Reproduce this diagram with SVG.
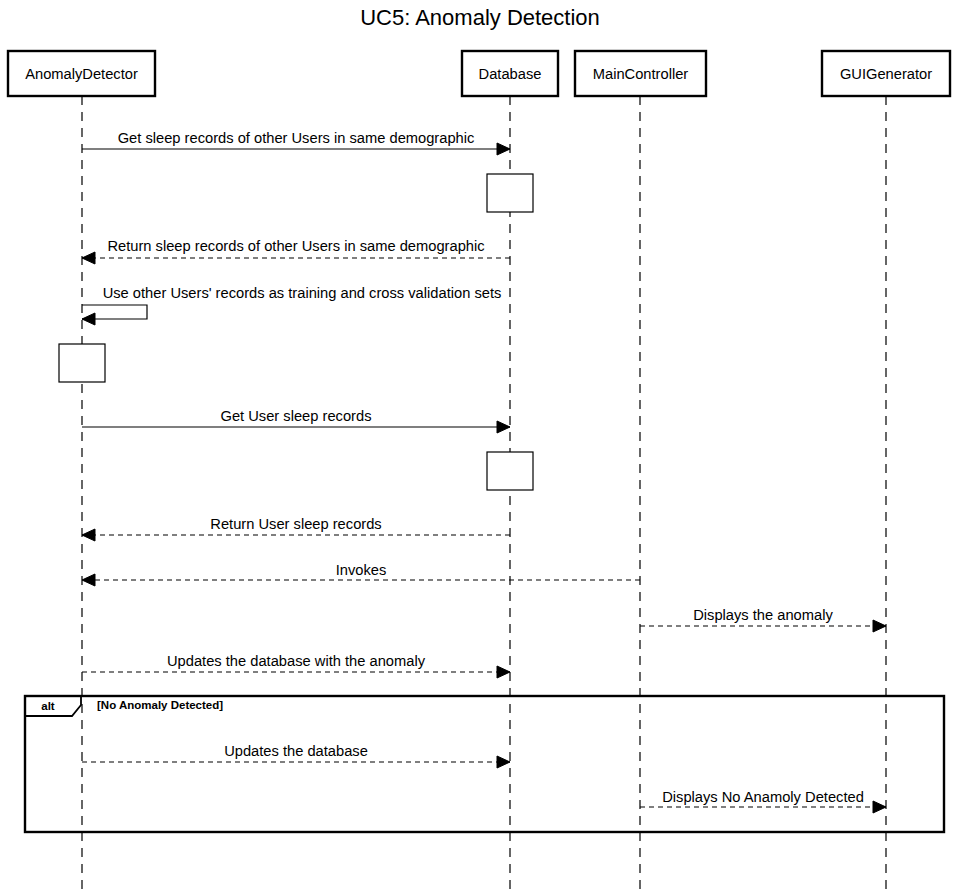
<svg xmlns="http://www.w3.org/2000/svg" width="960" height="889" viewBox="0 0 960 889">
  <style>
    text { font-family: "Liberation Sans", Arial, sans-serif; fill: #000; }
    .title { font-size: 22px; text-anchor: middle; }
    .lbl { font-size: 14.7px; text-anchor: middle; }
    .box { fill: #fff; stroke: #000; stroke-width: 2.4; }
    .act { fill: #fff; stroke: #000; stroke-width: 1.2; }
    .life { stroke: #000; stroke-width: 1.2; stroke-dasharray: 9 7; fill: none; }
    .msg { stroke: #000; stroke-width: 1.2; fill: none; marker-end: url(#arrow); }
    .ret { stroke-dasharray: 5 4; }
    .frame { fill: none; stroke: #000; stroke-width: 2.4; }
    .tag { font-size: 11.5px; font-weight: bold; }
  </style>
  <defs>
    <marker id="arrow" markerUnits="userSpaceOnUse" markerWidth="16" markerHeight="14" refX="14" refY="7" orient="auto">
      <path d="M1,1 L14,7 L1,13 Z" fill="#000" stroke="#000" stroke-width="1"/>
    </marker>
  </defs>

  <rect width="960" height="889" fill="#fff"/>

  <text class="title" x="480" y="25">UC5: Anomaly Detection</text>

  <!-- lifelines -->
  <g id="lifelines">
    <line class="life" x1="82" y1="96" x2="82" y2="889"/>
    <line class="life" x1="510" y1="96" x2="510" y2="889"/>
    <line class="life" x1="640" y1="96" x2="640" y2="889"/>
    <line class="life" x1="886" y1="96" x2="886" y2="889"/>
  </g>

  <!-- participants -->
  <g id="anomalyDetector">
    <rect class="box" x="8" y="51" width="147" height="45"/>
    <text class="lbl" x="81.5" y="79">AnomalyDetector</text>
  </g>
  <g id="database">
    <rect class="box" x="462" y="51" width="96" height="45"/>
    <text class="lbl" x="510" y="79">Database</text>
  </g>
  <g id="mainController">
    <rect class="box" x="575" y="51" width="131" height="45"/>
    <text class="lbl" x="640.5" y="79">MainController</text>
  </g>
  <g id="guiGenerator">
    <rect class="box" x="822" y="51" width="128" height="45"/>
    <text class="lbl" x="886" y="79">GUIGenerator</text>
  </g>

  <!-- activation boxes -->
  <g id="activations">
    <rect class="act" x="487" y="174" width="46" height="38"/>
    <rect class="act" x="59" y="344" width="46" height="38"/>
    <rect class="act" x="487" y="452" width="46" height="38"/>
  </g>

  <!-- alt fragment -->
  <g id="altFrame">
    <rect class="frame" x="25" y="696" width="919" height="136"/>
    <path d="M25,716 H72 L81,705 V696" fill="none" stroke="#000" stroke-width="1.8"/>
    <text class="tag" x="48" y="710" text-anchor="middle">alt</text>
    <text class="tag" x="97" y="709">[No Anomaly Detected]</text>
  </g>

  <!-- messages -->
  <g id="connectors">
    <line class="msg" x1="82" y1="149" x2="510" y2="149"/>
    <text class="lbl" x="296" y="143">Get sleep records of other Users in same demographic</text>

    <line class="msg ret" x1="510" y1="258" x2="82" y2="258"/>
    <text class="lbl" x="296" y="251">Return sleep records of other Users in same demographic</text>

    <path class="msg" d="M82,305 H147 V319 H82"/>
    <text class="lbl" x="302" y="298">Use other Users' records as training and cross validation sets</text>

    <line class="msg" x1="82" y1="427" x2="510" y2="427"/>
    <text class="lbl" x="296" y="421">Get User sleep records</text>

    <line class="msg ret" x1="510" y1="535" x2="82" y2="535"/>
    <text class="lbl" x="296" y="529">Return User sleep records</text>

    <line class="msg ret" x1="640" y1="580" x2="82" y2="580"/>
    <text class="lbl" x="361" y="575">Invokes</text>

    <line class="msg ret" x1="640" y1="626" x2="886" y2="626"/>
    <text class="lbl" x="763" y="620">Displays the anomaly</text>

    <line class="msg ret" x1="82" y1="672" x2="510" y2="672"/>
    <text class="lbl" x="296" y="666">Updates the database with the anomaly</text>

    <line class="msg ret" x1="82" y1="762" x2="510" y2="762"/>
    <text class="lbl" x="296" y="756">Updates the database</text>

    <line class="msg ret" x1="640" y1="807" x2="886" y2="807"/>
    <text class="lbl" x="763" y="802">Displays No Anamoly Detected</text>
  </g>
</svg>
